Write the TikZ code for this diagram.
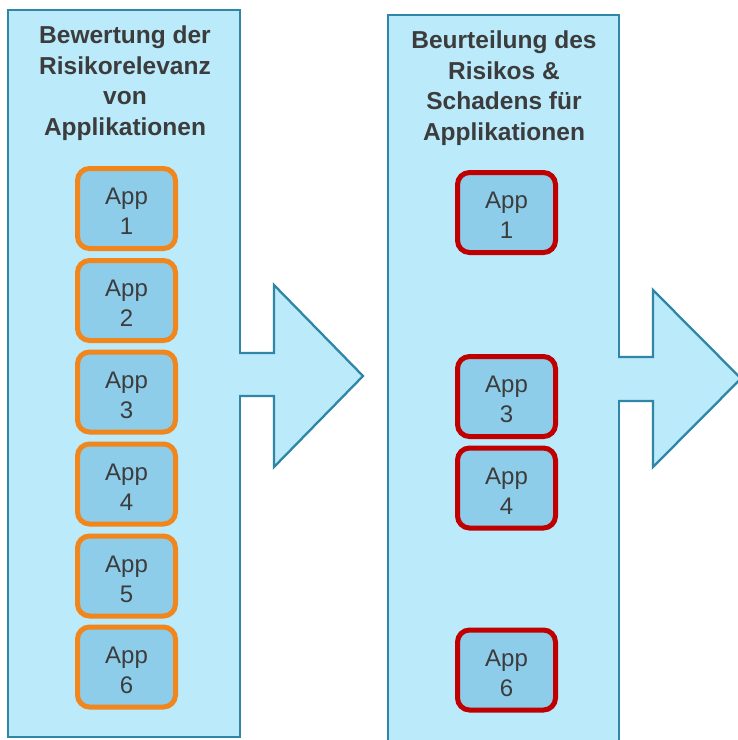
\documentclass[tikz,border=0pt]{standalone}
\usepackage{fontspec}
\setmainfont{Liberation Sans}
\definecolor{panelfill}{HTML}{BBEAFB}
\definecolor{paneledge}{HTML}{2F86A6}
\definecolor{appfill}{HTML}{8DCDEA}
\definecolor{apporange}{HTML}{F0861C}
\definecolor{appred}{HTML}{C00000}
\definecolor{txt}{HTML}{3C3C3C}
\tikzset{
  panel/.style={draw=paneledge, fill=panelfill, line width=2.3pt, inner sep=0pt},
  title/.style={text=txt, font=\fontsize{24.5}{30.5}\selectfont\bfseries, align=center, inner sep=0pt},
  apptext/.style={text=txt, font=\fontsize{24}{30}\selectfont, align=center, inner sep=0pt, yshift=-3pt},
  appbox/.style={fill=appfill, line width=5pt, rounded corners=12pt, minimum width=98pt, minimum height=80pt, inner sep=0pt},
  appo/.style={appbox, draw=apporange},
  appr/.style={appbox, draw=appred},
  arrowfill/.style={fill=panelfill},
  arrowline/.style={draw=paneledge, line width=2.3pt, line join=miter}
}
\begin{document}
\begin{tikzpicture}[x=1pt,y=-1pt]
\useasboundingbox (0,0) rectangle (738,740);
\clip (0,0) rectangle (738,740);
\fill[white] (0,0) rectangle (738,740);
% panels
\node[panel, minimum width=232pt, minimum height=727pt] (p1) at (124,373.5) {};
\node[panel, minimum width=231pt, minimum height=740pt] (p2) at (503.5,385) {};
% titles
\node[title] (t1) at (125,83) {Bewertung der\\Risikorelevanz\\von\\Applikationen};
\node[title] (t2) at (504,88) {Beurteilung des\\Risikos \&\\Schadens für\\Applikationen};
% arrows
\fill[arrowfill] (235,353) -- (274,353) -- (274,285) -- (363,376) -- (274,467) -- (274,396) -- (235,396) -- cycle;
\draw[arrowline] (239,353) -- (274,353) -- (274,285) -- (363,376) -- (274,467) -- (274,396) -- (239,396);
\fill[arrowfill] (615,357) -- (653,357) -- (653,290) -- (741,378.5) -- (653,467) -- (653,401) -- (615,401) -- cycle;
\draw[arrowline] (618,357) -- (653,357) -- (653,290) -- (741,378.5) -- (653,467) -- (653,401) -- (618,401);
% left apps
\node[appo, label={[apptext]center:{App\\1}}] (l1) at (126.5,208.5) {};
\node[appo, label={[apptext]center:{App\\2}}] (l2) at (126.5,300.5) {};
\node[appo, label={[apptext]center:{App\\3}}] (l3) at (126.5,392) {};
\node[appo, label={[apptext]center:{App\\4}}] (l4) at (126.5,484) {};
\node[appo, label={[apptext]center:{App\\5}}] (l5) at (126.5,576) {};
\node[appo, label={[apptext]center:{App\\6}}] (l6) at (126.5,667) {};
% right apps
\node[appr, label={[apptext]center:{App\\1}}] (r1) at (506.5,212.5) {};
\node[appr, label={[apptext]center:{App\\3}}] (r3) at (506.5,396.5) {};
\node[appr, label={[apptext]center:{App\\4}}] (r4) at (506.5,488) {};
\node[appr, label={[apptext]center:{App\\6}}] (r6) at (506.5,670) {};
\end{tikzpicture}
\end{document}
